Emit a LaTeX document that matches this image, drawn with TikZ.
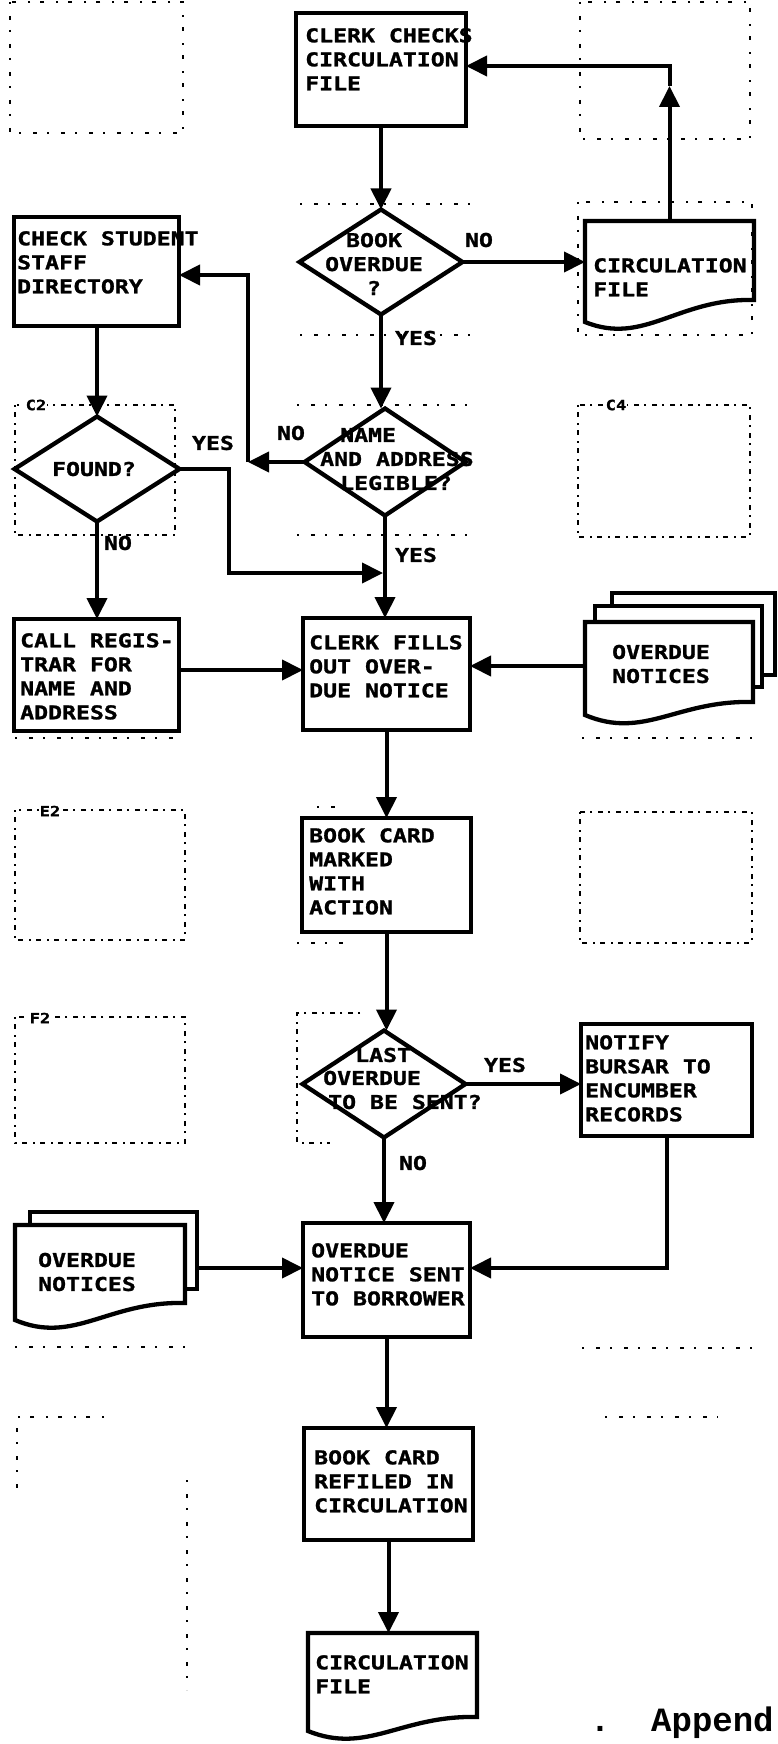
\documentclass[tikz,border=0pt]{standalone}
\usepackage{fontspec}
\usetikzlibrary{arrows.meta,calc,shapes.geometric}
\newfontfamily\lettering{DejaVu Sans Mono}[FakeStretch=1.22, BoldFeatures={FakeBold=1.3}]
\newfontfamily\typewriter{Liberation Mono}
\begin{document}
\begin{tikzpicture}[x=1pt,y=-1pt,
  shp/.style={draw, line width=4.3pt, line join=miter},
  box/.style={shp, rectangle, inner sep=0pt, outer sep=0pt, anchor=north west},
  dia/.style={shp, diamond, inner sep=0pt, outer sep=0pt},
  holder/.style={inner sep=0pt, outer sep=0pt, anchor=north west},
  conn/.style={line width=4pt},
  arr/.style={conn, -{Triangle[length=21pt,width=20pt]}},
  txt/.style={inner sep=0pt, font=\lettering\bfseries\fontsize{19}{24}\selectfont, align=left},
  lbl/.style={inner sep=0pt, font=\lettering\bfseries\fontsize{19}{24}\selectfont},
  gridln/.style={line width=1.4pt, dash pattern=on 2pt off 5pt on 5pt off 6pt},
  gridfaint/.style={line width=1.4pt, dash pattern=on 2pt off 12pt on 4pt off 10pt},
  glbl/.style={inner sep=1pt, fill=white, font=\lettering\bfseries\fontsize{14}{14}\selectfont},
]
\fill[white] (0,0) rectangle (777,1744);
\useasboundingbox (0,0) rectangle (777,1744);

% ---- template grid (faint) ----
\draw[gridln] (15,405) rectangle (175,535);
\draw[gridln] (578,405) rectangle (750,537);
\draw[gridln] (15,810) rectangle (185,940);
\draw[gridln] (580,812) rectangle (752,943);
\draw[gridln] (15,1017) rectangle (185,1143);
\draw[gridfaint] (10,2) rectangle (183,133);
\draw[gridfaint] (580,2) rectangle (750,139);
\draw[gridfaint] (578,202) rectangle (752,335);
\draw[gridfaint] (300,204) -- (470,204);
\draw[gridfaint] (300,335) -- (470,335);
\draw[gridfaint] (297,405) -- (468,405);
\draw[gridfaint] (297,535) -- (468,535);
\draw[gridfaint] (15,738) -- (175,738);
\draw[gridfaint] (582,738) -- (753,738);
\draw[gridfaint] (317,807) -- (340,807);
\draw[gridfaint] (297,943) -- (345,943);
\draw[gridln] (360,1013) -- (297,1013) -- (297,1143) -- (330,1143);
\draw[gridfaint] (15,1347) -- (188,1347);
\draw[gridfaint] (582,1348) -- (753,1348);
\draw[gridfaint] (104,1417) -- (17,1417) -- (17,1490);
\draw[gridfaint] (605,1417) -- (718,1417);
\draw[gridfaint] (187,1480) -- (187,1690);
\node[glbl] (gC2) at (36,405) {C2};
\node[glbl] (gC4) at (616,405) {C4};
\node[glbl] (gE2) at (50,811) {E2};
\node[glbl] (gF2) at (40,1018) {F2};

% ---- process boxes ----
\node[box, minimum width=170pt, minimum height=113pt] (clerk) at (296,13) {};
\node[box, minimum width=165pt, minimum height=109pt] (dir) at (14,217) {};
\node[box, minimum width=165pt, minimum height=112pt] (reg) at (14,619) {};
\node[box, minimum width=167pt, minimum height=112pt] (fills) at (303,618) {};
\node[box, minimum width=169pt, minimum height=114pt] (marked) at (302,818) {};
\node[box, minimum width=171pt, minimum height=112pt] (bursar) at (581,1024) {};
\node[box, minimum width=167pt, minimum height=114pt] (sent) at (303,1223) {};
\node[box, minimum width=169pt, minimum height=112pt] (refiled) at (304,1428) {};

% ---- decisions ----
\node[dia, minimum width=163pt, minimum height=105pt] (overdue) at (381,262) {};
\node[dia, minimum width=161pt, minimum height=107pt] (name) at (385,462) {};
\node[dia, minimum width=165pt, minimum height=105pt] (found) at (97,469) {};
\node[dia, minimum width=163pt, minimum height=107pt] (last) at (384,1084) {};

% ---- documents ----
\node[holder, minimum width=169pt, minimum height=100pt] (circ1) at (585,221) {};
\node[holder, minimum width=168pt, minimum height=100pt] (n1) at (585,622) {};
\node[holder, minimum width=170pt, minimum height=100pt] (n2) at (15,1225) {};
\node[holder, minimum width=169pt, minimum height=100pt] (circ2) at (308,1633) {};
\draw[shp] (585,221) -- (754,221) -- (754,300) .. controls (678,298) and (644,346) .. (585,322) -- cycle;
\draw[shp] (585,622) -- (753,622) -- (753,702) .. controls (677,700) and (644,740) .. (585,715) -- cycle;
\draw[shp] (753,687) -- (762,687) -- (762,606) -- (595,606) -- (595,622);
\draw[shp] (762,675) -- (775,675) -- (775,593) -- (612,593) -- (612,606);
\draw[shp] (15,1225) -- (185,1225) -- (185,1303) .. controls (108,1301) and (74,1345) .. (15,1320) -- cycle;
\draw[shp] (185,1289) -- (197,1289) -- (197,1212) -- (30,1212) -- (30,1225);
\draw[shp] (308,1633) -- (477,1633) -- (477,1717) .. controls (401,1715) and (367,1755) .. (308,1731) -- cycle;

% ---- texts ----
\node[txt, anchor=north west] (tclerk) at (305,28) {CLERK CHECKS\\CIRCULATION\\FILE};
\node[txt, anchor=north west] (tdir) at (17,231) {CHECK STUDENT\\STAFF\\DIRECTORY};
\node[txt, anchor=north west] (treg) at (20,633) {CALL REGIS-\\TRAR FOR\\NAME AND\\ADDRESS};
\node[txt, anchor=north west] (tfills) at (309,635) {CLERK FILLS\\OUT OVER-\\DUE NOTICE};
\node[txt, anchor=north west] (tmarked) at (309,828) {BOOK CARD\\MARKED\\WITH\\ACTION};
\node[txt, anchor=north west] (tbursar) at (585,1035) {NOTIFY\\BURSAR TO\\ENCUMBER\\RECORDS};
\node[txt, anchor=north west] (tsent) at (311,1243) {OVERDUE\\NOTICE SENT\\TO BORROWER};
\node[txt, anchor=north west] (trefiled) at (314,1450) {BOOK CARD\\REFILED IN\\CIRCULATION};
\node[txt, anchor=north west] (tcirc1) at (593,258) {CIRCULATION\\FILE};
\node[txt, anchor=north west] (tcirc2) at (315,1655) {CIRCULATION\\FILE};
\node[txt, align=center] (tn1) at (661,664) {OVERDUE\\NOTICES};
\node[txt, align=center] (tn2) at (87,1272) {OVERDUE\\NOTICES};
\node[txt, align=center] (tover) at (374,264) {BOOK\\OVERDUE\\?};
\node[lbl] (tfound) at (94,469) {FOUND?};
\node[lbl, anchor=west] (tname1) at (340,435) {NAME};
\node[lbl, anchor=west] (tname2) at (320,459) {AND ADDRESS};
\node[lbl, anchor=west] (tname3) at (340,483) {LEGIBLE?};
\node[lbl, anchor=west] (tlast1) at (355,1055) {LAST};
\node[lbl, anchor=west] (tlast2) at (323,1078) {OVERDUE};
\node[lbl, anchor=west] (tlast3) at (328,1102) {TO BE SENT?};

% ---- connector labels ----
\node[lbl] (lno1) at (479,240) {NO};
\node[lbl] (lyes1) at (416,338) {YES};
\node[lbl] (lno2) at (291,433) {NO};
\node[lbl] (lyes2) at (213,443) {YES};
\node[lbl] (lyes3) at (416,555) {YES};
\node[lbl] (lno3) at (118,543) {NO};
\node[lbl] (lyes4) at (505,1065) {YES};
\node[lbl] (lno4) at (413,1163) {NO};

% ---- connectors ----
\coordinate (retmid) at (669.5,86);
\coordinate (ret) at (669.5,66);
\coordinate (jn) at (248,462);
\coordinate (jn2) at (248,275);
\coordinate (fy) at (229,573);
\coordinate (fyend) at (383,573);
\coordinate (bjy) at (0,1268);
\coordinate (n2out) at (197,1268);

\draw[arr] (clerk.south -| overdue.north) -- (overdue.north);
\draw[arr] (overdue.east) -- (overdue.east -| circ1.west);
\draw[arr] (circ1.north) -- (retmid);
\draw[arr] (retmid) -- (ret) -- (ret -| clerk.east);
\draw[arr] (overdue.south) -- (overdue.south |- name.north);
\draw[arr] (name.west) -- (jn);
\draw[arr] (jn) -- (jn2) -- (jn2 -| dir.east);
\draw[arr] (dir.south -| found.north) -- (found.north);
\draw[arr] (found.east) -- (found.east -| fy) -- (fy) -- (fyend);
\draw[arr] (name.south) -- (name.south |- fills.north);
\draw[arr] (found.south) -- (found.south |- reg.north);
\draw[arr] ($(reg.east)+(0,-5)$) -- ($(reg.east -| fills.west)+(0,-5)$);
\draw[arr] ($(n1.west)+(0,-6)$) -- ($(n1.west -| fills.east)+(0,-6)$);
\draw[arr] (fills.south) -- (fills.south |- marked.north);
\draw[arr] (marked.south) -- (marked.south |- last.north);
\draw[arr] (last.east) -- (last.east -| bursar.west);
\draw[arr] (last.south) -- (last.south |- sent.north);
\draw[arr] (bursar.south) -- (bursar.south |- bjy) -- (bjy -| sent.east);
\draw[arr] (n2out) -- (n2out -| sent.west);
\draw[arr] (sent.south) -- (sent.south |- refiled.north);
\draw[arr] (refiled.south) -- (refiled.south |- circ2.north);

% ---- page footer text ----
\node[inner sep=0pt, anchor=base, font=\typewriter\bfseries\fontsize{34}{34}\selectfont] (dot) at (600,1731) {.};
\node[inner sep=0pt, anchor=base west, font=\typewriter\bfseries\fontsize{34}{34}\selectfont] (app) at (651,1731) {Append};
\end{tikzpicture}
\end{document}
